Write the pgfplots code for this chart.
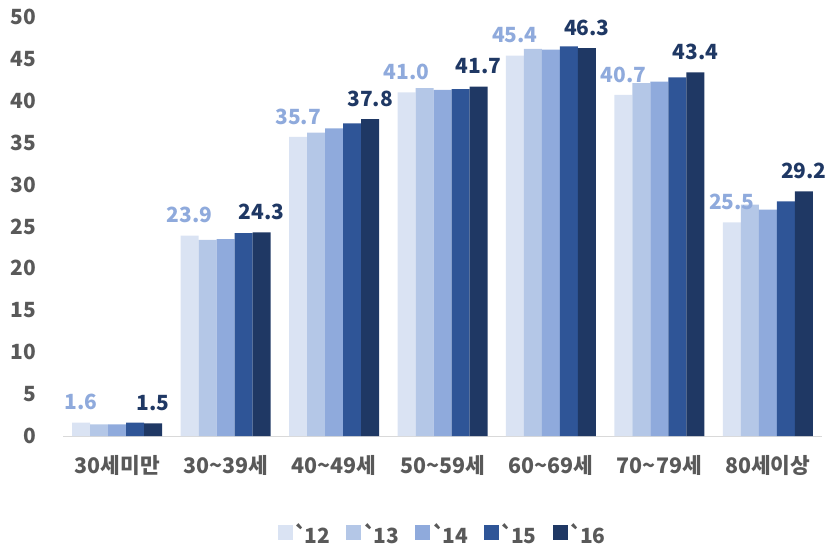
\documentclass[border=0pt]{standalone}
\usepackage{fontspec}
\setmainfont{Noto Sans CJK KR}
\usepackage{pgfplots}
\pgfplotsset{compat=1.18}
\definecolor{c12}{HTML}{DAE3F3}
\definecolor{c13}{HTML}{B4C7E7}
\definecolor{c14}{HTML}{8FAADC}
\definecolor{c15}{HTML}{2F5597}
\definecolor{c16}{HTML}{1F3864}
\definecolor{txt}{HTML}{595959}
\newcommand{\lbl}{\bfseries\fontsize{21}{21}\selectfont}
\newcommand{\cat}{\bfseries\fontsize{21.5}{21.5}\selectfont}

\begin{document}
\begin{tikzpicture}
\useasboundingbox (-63bp,-111bp) rectangle (764bp,436bp);
\begin{axis}[
  at={(0,0)}, anchor=south west,
  scale only axis, width=759bp, height=419bp,
  ymin=0, ymax=50, ytick={0,5,...,50},
  xmin=-0.5, xmax=6.5, xtick={0,...,6},
  xticklabels={30세미만, 30\textasciitilde39세, 40\textasciitilde49세, 50\textasciitilde59세, 60\textasciitilde69세, 70\textasciitilde79세, 80세이상},
  ybar=0pt, bar width=18bp,
  axis x line*=bottom, axis y line*=left,
  axis line style={-},
  x axis line style={draw=black!15, line width=1bp},
  y axis line style={draw=none},
  major tick length=0pt,
  /pgf/number format/assume math mode=true,
  tick label style={font=\lbl, text=txt},
  yticklabel style={xshift=-23bp},
  xticklabel style={font=\cat, yshift=-16bp},
  nodes near coords={\pgfmathprintnumber[fixed,fixed zerofill,precision=1]{\pgfplotspointmeta}},
  every node near coord/.append style={font=\lbl, yshift=9bp},
  legend style={at={(0.5,-0.225)}, anchor=center, draw=none, legend columns=5,
    font=\lbl, text=txt,
    /tikz/every even column/.append style={column sep=14bp}},
  legend image code/.code={\path[fill=none, draw=none] (0bp,-6bp) rectangle (15bp,21bp);
    \fill[#1] (0bp,-6bp) rectangle (15bp,9bp);},
]
\addplot[fill=c12, draw=none, every node near coord/.append style={text=c14}] coordinates {
  (0,1.6) (1,23.9) (2,35.7) (3,41.0) (4,45.4) (5,40.7) (6,25.5)};
\addlegendentry{\textasciigrave\kern-3bp 12}
\addplot[fill=c13, draw=none, nodes near coords={}] coordinates {
  (0,1.4) (1,23.4) (2,36.2) (3,41.5) (4,46.2) (5,42.1) (6,27.6)};
\addlegendentry{\textasciigrave\kern-3bp 13}
\addplot[fill=c14, draw=none, nodes near coords={}] coordinates {
  (0,1.4) (1,23.5) (2,36.7) (3,41.3) (4,46.1) (5,42.3) (6,27.0)};
\addlegendentry{\textasciigrave\kern-3bp 14}
\addplot[fill=c15, draw=none, nodes near coords={}] coordinates {
  (0,1.6) (1,24.2) (2,37.3) (3,41.4) (4,46.5) (5,42.8) (6,28.0)};
\addlegendentry{\textasciigrave\kern-3bp 15}
\addplot[fill=c16, draw=none, every node near coord/.append style={text=c16}] coordinates {
  (0,1.5) (1,24.3) (2,37.8) (3,41.7) (4,46.3) (5,43.4) (6,29.2)};
\addlegendentry{\textasciigrave\kern-3bp 16}
\end{axis}
\end{tikzpicture}
\end{document}
